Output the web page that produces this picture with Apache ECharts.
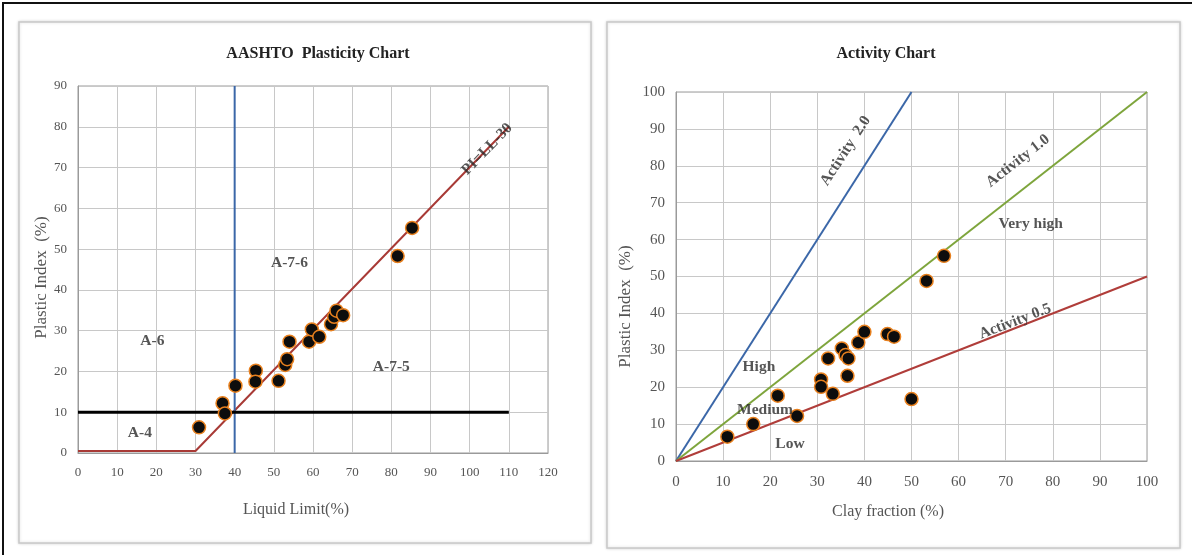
<!DOCTYPE html>
<html><head><meta charset="utf-8">
<script src="https://cdn.jsdelivr.net/npm/echarts@6/dist/echarts.min.js"></script>
<style>html,body{margin:0;padding:0;background:#fff}#c{width:1192px;height:555px}</style>
</head><body><div id="c"></div>
<script>
// ---- AASHTO plasticity chart data ----
const aashtoLL = [30.9,36.9,37.5,40.2,45.4,45.3,51.2,52.9,53.4,54.0,59.0,59.7,61.6,64.6,65.4,66.0,67.7,81.6,85.3];
const aashtoPI = [6.3,12.2,9.7,16.5,20.2,17.5,17.7,21.6,23.0,27.3,27.3,30.3,28.5,31.6,33.4,34.9,33.8,48.3,55.2];
const aLineLL = [0,30,110];           // PI = LL - 30 boundary
const aLinePI = [0.5,0.5,80];
const blueLL = [40,40];
const bluePI = [0,90];
const blackLL = [0,110];
const blackPI = [10,10];
const aashtoXTicks = [0,10,20,30,40,50,60,70,80,90,100,110,120];
const aashtoYTicks = [0,10,20,30,40,50,60,70,80,90];

// ---- Activity chart data ----
const clayFrac = [10.9,16.4,21.6,25.7,30.8,30.8,32.3,33.3,35.2,36.0,36.6,36.4,38.7,40.0,44.9,46.3,50.0,53.2,56.9];
const clayPI   = [6.6,10.0,17.7,12.2,22.1,20.1,27.8,18.2,30.5,28.7,27.8,23.1,32.1,35.0,34.4,33.7,16.8,48.8,55.6];
const act20X = [0,50],  act20Y = [0,100];
const act10X = [0,100], act10Y = [0,100];
const act05X = [0,100], act05Y = [0,50];
const actXTicks = [0,10,20,30,40,50,60,70,80,90,100];
const actYTicks = [0,10,20,30,40,50,60,70,80,90,100];

const zip = (a,b) => a.map((v,i)=>[v,b[i]]);
const serif = 'Liberation Serif';

const leftLabels = [
  {text:'A-6', x:19, y:27.5, rot:0},
  {text:'A-4', x:15.8, y:5, rot:0},
  {text:'A-7-6', x:54, y:46.5, rot:0},
  {text:'A-7-5', x:80, y:21, rot:0},
  {text:'PI=LL-30', x:104.5, y:74.5, rot:46}
];
const rightLabels = [
  {text:'Activity  2.0', x:36, y:84, rot:57},
  {text:'Activity 1.0', x:72.6, y:81.3, rot:38},
  {text:'Very high', x:75.3, y:64.2, rot:0},
  {text:'Activity 0.5', x:72, y:37.8, rot:21},
  {text:'High', x:17.6, y:25.5, rot:0},
  {text:'Medium', x:18.9, y:13.7, rot:0},
  {text:'Low', x:24.2, y:4.6, rot:0}
];

function labelSeries(arr, xi){
  return {
    type:'scatter', xAxisIndex:xi, yAxisIndex:xi, symbolSize:0, silent:true, z:5,
    data: arr.map(d=>({value:[d.x,d.y], label:{show:true, formatter:d.text, rotate:d.rot, position:'inside',
      fontFamily:serif, fontWeight:'bold', fontSize:15.5, color:'#2a2a2a'}}))
  };
}

const axisLine = {show:true, lineStyle:{color:'#9a9a9a', width:1}};
const splitLine = {show:true, lineStyle:{color:'#c8c8c8', width:1}};
const nameStyle = {fontFamily:serif, fontSize:16, color:'#555'};
const marker = {color:'#0d0d0d', borderColor:'#e8801e', borderWidth:1.5, opacity:1};

const chart = echarts.init(document.getElementById('c'), null, {renderer:'canvas'});
chart.setOption({
  animation:false,
  backgroundColor:'#fff',
  graphic:[
    {type:'rect', shape:{x:3,y:3,width:1200,height:560}, style:{fill:'#fff', stroke:'#111', lineWidth:2}, z:-10},
    {type:'rect', shape:{x:19,y:22,width:572,height:521}, style:{fill:'#fff', stroke:'#c9c9c9', lineWidth:1.5, shadowBlur:3, shadowColor:'rgba(0,0,0,0.15)'}, z:-5},
    {type:'rect', shape:{x:607,y:22,width:573,height:526}, style:{fill:'#fff', stroke:'#c9c9c9', lineWidth:1.5, shadowBlur:3, shadowColor:'rgba(0,0,0,0.15)'}, z:-5}
  ],
  title:[
    {text:'AASHTO  Plasticity Chart', left:313, top:41, textAlign:'center',
     textStyle:{fontFamily:serif, fontWeight:'bold', fontSize:16, color:'#222'}},
    {text:'Activity Chart', left:881, top:41, textAlign:'center',
     textStyle:{fontFamily:serif, fontWeight:'bold', fontSize:16, color:'#222'}}
  ],
  grid:[
    {left:78, right:644, top:86, bottom:102, show:true, borderColor:'#9a9a9a', borderWidth:1},
    {left:676, right:45, top:92, bottom:94, show:true, borderColor:'#9a9a9a', borderWidth:1}
  ],
  xAxis:[
    {gridIndex:0, type:'value', min:aashtoXTicks[0], max:aashtoXTicks[aashtoXTicks.length-1], interval:10,
      axisLine, axisTick:{show:false}, splitLine,
      axisLabel:{fontFamily:serif, fontSize:13, color:'#555', margin:13},
      name:'Liquid Limit(%)', nameLocation:'middle', nameGap:49,
      nameTextStyle:Object.assign({}, nameStyle, {padding:[0,34,0,0]})},
    {gridIndex:1, type:'value', min:actXTicks[0], max:actXTicks[actXTicks.length-1], interval:10,
      axisLine, axisTick:{show:false}, splitLine,
      axisLabel:{fontFamily:serif, fontSize:15, color:'#555', margin:14},
      name:'Clay fraction (%)', nameLocation:'middle', nameGap:43,
      nameTextStyle:Object.assign({}, nameStyle, {padding:[0,47,0,0]})}
  ],
  yAxis:[
    {gridIndex:0, type:'value', min:aashtoYTicks[0], max:aashtoYTicks[aashtoYTicks.length-1], interval:10,
      axisLine, axisTick:{show:false}, splitLine,
      axisLabel:{fontFamily:serif, fontSize:13, color:'#555', margin:11},
      name:'Plastic Index  (%)', nameLocation:'middle', nameGap:28,
      nameTextStyle:Object.assign({}, nameStyle, {fontSize:17, padding:[0,16,0,0]})},
    {gridIndex:1, type:'value', min:actYTicks[0], max:actYTicks[actYTicks.length-1], interval:10,
      axisLine, axisTick:{show:false}, splitLine,
      axisLabel:{fontFamily:serif, fontSize:15, color:'#555', margin:11},
      name:'Plastic Index  (%)', nameLocation:'middle', nameGap:42,
      nameTextStyle:Object.assign({}, nameStyle, {fontSize:17, padding:[0,60,0,0]})}
  ],
  series:[
    {type:'line', xAxisIndex:0, yAxisIndex:0, data:zip(aLineLL,aLinePI), symbol:'none', lineStyle:{color:'#a83a36', width:2}, z:2, silent:true},
    {type:'line', xAxisIndex:0, yAxisIndex:0, data:zip(blueLL,bluePI), symbol:'none', lineStyle:{color:'#3b67a8', width:2}, z:2, silent:true},
    {type:'line', xAxisIndex:0, yAxisIndex:0, data:zip(blackLL,blackPI), symbol:'none', lineStyle:{color:'#000', width:3}, z:2, silent:true},
    {type:'scatter', xAxisIndex:0, yAxisIndex:0, data:zip(aashtoLL,aashtoPI), symbolSize:13, itemStyle:marker, z:4},
    labelSeries(leftLabels,0),
    {type:'line', xAxisIndex:1, yAxisIndex:1, data:zip(act20X,act20Y), symbol:'none', lineStyle:{color:'#3b67a8', width:2}, z:2, silent:true},
    {type:'line', xAxisIndex:1, yAxisIndex:1, data:zip(act10X,act10Y), symbol:'none', lineStyle:{color:'#7ea53c', width:2}, z:2, silent:true},
    {type:'line', xAxisIndex:1, yAxisIndex:1, data:zip(act05X,act05Y), symbol:'none', lineStyle:{color:'#b03d3a', width:2}, z:2, silent:true},
    {type:'scatter', xAxisIndex:1, yAxisIndex:1, data:zip(clayFrac,clayPI), symbolSize:13, itemStyle:marker, z:4},
    labelSeries(rightLabels,1)
  ]
});
</script></body></html>
